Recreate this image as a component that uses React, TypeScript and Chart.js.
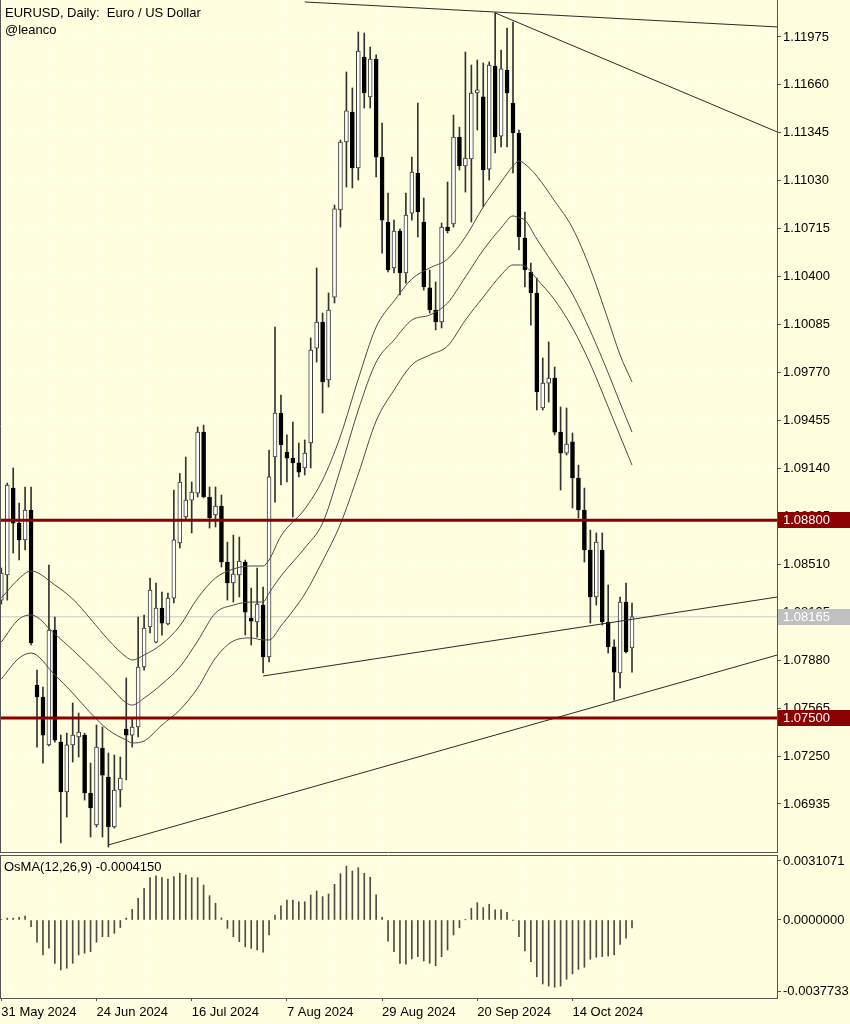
import React, { useEffect, useRef } from "react";
import { Chart, registerables } from "chart.js";

Chart.register(...registerables);

const FONT = '"Liberation Sans", Arial, Helvetica, sans-serif';
const BG = "#FFFFE0";
const GRID = "rgba(255,255,255,0.95)";
const AXIS = "#555555";

const TITLE = "EURUSD, Daily:  Euro / US Dollar";
const SUBTITLE = "@leanco";
const OSMA_TITLE = "OsMA(12,26,9) -0.0004150";

// Daily candles, 31 May 2024 .. 28 Oct 2024 (bar index 0..106)
const OPEN = [
  1.08275, 1.0844, 1.09011, 1.08781, 1.0867, 1.08867, 1.07717, 1.07638, 1.07323, 1.08078,
  1.07342, 1.07014, 1.07323, 1.07375, 1.07388, 1.07007, 1.06797, 1.07303, 1.07112, 1.06784,
  1.07027, 1.07428, 1.07388, 1.07441, 1.07835, 1.08098, 1.07999, 1.08223, 1.08118, 1.08288,
  1.0865, 1.08821, 1.08932, 1.08978, 1.09379, 1.08952, 1.08834, 1.08893, 1.08525, 1.08387,
  1.0844, 1.08525, 1.08157, 1.08131, 1.08242, 1.07901, 1.09215, 1.09504, 1.09248, 1.09208,
  1.09176, 1.09143, 1.09307, 1.09931, 1.10102, 1.09721, 1.10266, 1.10838, 1.11285, 1.11482,
  1.11114, 1.11843, 1.11581, 1.1183, 1.11186, 1.10759, 1.10457, 1.107, 1.10424, 1.10818,
  1.11081, 1.10759, 1.10326, 1.10181, 1.10102, 1.10726, 1.10746, 1.11318, 1.11127, 1.11173,
  1.11607, 1.11581, 1.11107, 1.11784, 1.11324, 1.11758, 1.11541, 1.11344, 1.10654, 1.10431,
  1.10293, 1.09537, 1.09701, 1.09734, 1.09379, 1.09241, 1.09314, 1.09077, 1.08867, 1.08604,
  1.08295, 1.08604, 1.08131, 1.07967, 1.07796, 1.08262, 1.0796,
];
const HIGH = [
  1.08486, 1.09044, 1.09143, 1.08913, 1.09018, 1.09018, 1.07815, 1.07704, 1.08505, 1.08164,
  1.07388, 1.07401, 1.07599, 1.07533, 1.07401, 1.07204, 1.07454, 1.07441, 1.0727, 1.07257,
  1.07244, 1.07763, 1.075, 1.08164, 1.08177, 1.0842, 1.08387, 1.08328, 1.08321, 1.08998,
  1.09107, 1.09215, 1.09051, 1.09412, 1.09425, 1.09018, 1.09018, 1.08965, 1.08656, 1.08702,
  1.08689, 1.08538, 1.08354, 1.08486, 1.08361, 1.09261, 1.10069, 1.09622, 1.0936, 1.09445,
  1.09307, 1.09327, 1.09997, 1.10457, 1.10161, 1.10293, 1.10871, 1.11298, 1.11745, 1.1164,
  1.12008, 1.12001, 1.11909, 1.11857, 1.1141, 1.1095, 1.10772, 1.10713, 1.1095, 1.11186,
  1.11541, 1.10917, 1.10444, 1.10365, 1.10753, 1.11022, 1.11462, 1.11383, 1.11876, 1.11791,
  1.11824, 1.11804, 1.11811, 1.12133, 1.11889, 1.12034, 1.12073, 1.11364, 1.10825, 1.1049,
  1.10391, 1.09866, 1.09971, 1.09806, 1.09544, 1.09537, 1.09373, 1.09162, 1.09011, 1.08735,
  1.08716, 1.08716, 1.08374, 1.08013, 1.08295, 1.08387, 1.08256,
];
const LOW = [
  1.08249, 1.08275, 1.08584, 1.08538, 1.08604, 1.0798, 1.07309, 1.07204, 1.07316, 1.07342,
  1.06679, 1.06849, 1.07211, 1.07244, 1.06961, 1.06718, 1.06784, 1.06718, 1.06652, 1.06777,
  1.06915, 1.07093, 1.07309, 1.07375, 1.07815, 1.08059, 1.07993, 1.08045, 1.08111, 1.08256,
  1.08617, 1.08801, 1.08716, 1.08952, 1.08946, 1.08748, 1.08755, 1.08492, 1.08275, 1.08262,
  1.08295, 1.08045, 1.0798, 1.08032, 1.07796, 1.07868, 1.08919, 1.09031, 1.09051, 1.08821,
  1.09084, 1.09097, 1.09143, 1.09839, 1.09504, 1.09675, 1.10227, 1.10726, 1.10989, 1.10983,
  1.11035, 1.11508, 1.11508, 1.11055, 1.10555, 1.10431, 1.10424, 1.1028, 1.10358, 1.10772,
  1.10661, 1.10312, 1.10161, 1.1005, 1.10063, 1.10687, 1.10726, 1.11101, 1.10956, 1.10759,
  1.11364, 1.10858, 1.11035, 1.11213, 1.11252, 1.11252, 1.11081, 1.10575, 1.10332, 1.10082,
  1.09524, 1.09524, 1.09576, 1.0936, 1.08998, 1.09228, 1.0888, 1.08814, 1.08525, 1.08124,
  1.08242, 1.08111, 1.07927, 1.07618, 1.07697, 1.07927, 1.07802,
];
const CLOSE = [
  1.08453, 1.09031, 1.08781, 1.0867, 1.08867, 1.07993, 1.07638, 1.07388, 1.08078, 1.07355,
  1.07014, 1.07323, 1.07388, 1.07408, 1.07007, 1.06909, 1.07309, 1.07125, 1.06784, 1.07027,
  1.07106, 1.07388, 1.07441, 1.07835, 1.08091, 1.08341, 1.08223, 1.08124, 1.08288, 1.0867,
  1.09051, 1.08932, 1.08985, 1.09379, 1.08952, 1.08814, 1.08893, 1.08525, 1.08387, 1.08446,
  1.08532, 1.08196, 1.08137, 1.08249, 1.07901, 1.09084, 1.09504, 1.09294, 1.09208, 1.09176,
  1.09116, 1.09241, 1.09918, 1.10102, 1.09708, 1.10181, 1.10845, 1.11285, 1.11489, 1.11114,
  1.11883, 1.11607, 1.1183, 1.11186, 1.10772, 1.10444, 1.107, 1.10424, 1.10805, 1.11088,
  1.10825, 1.10332, 1.10181, 1.10102, 1.10726, 1.107, 1.11318, 1.11127, 1.1118, 1.11607,
  1.11627, 1.11101, 1.11791, 1.11318, 1.11765, 1.11607, 1.11344, 1.10661, 1.10444, 1.10293,
  1.09642, 1.09701, 1.09734, 1.09379, 1.09241, 1.093, 1.09077, 1.08867, 1.08604, 1.08295,
  1.08656, 1.08131, 1.07967, 1.07802, 1.08262, 1.07934, 1.08165,
];

// OsMA(12,26,9) histogram, one value per bar
const OSMA = [
  0.00003, 0.0001, 0.0001, 0.00014, 0.0002, -0.00035, -0.00117, -0.00184, -0.00149, -0.00228,
  -0.00263, -0.00254, -0.00228, -0.00184, -0.00175, -0.00167, -0.00117, -0.00088, -0.00088, -0.0007,
  -0.0004, 0.0001, 0.00056, 0.00114, 0.00167, 0.00223, 0.00233, 0.00223, 0.00216, 0.00228,
  0.00246, 0.00237, 0.00223, 0.00223, 0.00184, 0.00128, 0.00088, 0.00011, -0.00044, -0.00088,
  -0.00114, -0.00141, -0.00149, -0.00158, -0.0017, -0.00079, 0.00026, 0.00075, 0.00105, 0.00105,
  0.00096, 0.00096, 0.00132, 0.00153, 0.00123, 0.00137, 0.00188, 0.00244, 0.00284, 0.00258,
  0.00275, 0.00246, 0.00225, 0.00132, 0.00014, -0.00111, -0.00167, -0.00228, -0.00233, -0.00205,
  -0.00193, -0.00216, -0.00228, -0.00241, -0.00193, -0.00158, -0.00079, -0.00041, 0.00001, 0.00062,
  0.00091, 0.00065, 0.00083, 0.00053, 0.00053, 0.00041, -0.00001, -0.00088, -0.00163, -0.0022,
  -0.00299, -0.00337, -0.00348, -0.00354, -0.00348, -0.00312, -0.00284, -0.0026, -0.00249, -0.00207,
  -0.00196, -0.00193, -0.0019, -0.00184, -0.00128, -0.00096, -0.000415,
];

// Three moving-average curves read at these bars
const MA_BARS = [
  0, 3, 5, 9, 12, 15, 18, 21, 22, 24, 27, 30, 33, 36, 39, 42, 44, 45, 47, 51, 54,
  57, 60, 63, 66, 69, 72, 75, 78, 81, 84, 86, 87, 88, 90, 93, 96, 99, 102, 104, 106,
];
const MA_UPPER = [
  1.08288, 1.08417, 1.08466, 1.08374, 1.08282, 1.08151, 1.08013, 1.07901, 1.07881, 1.07914, 1.07986,
  1.08105, 1.08288, 1.0842, 1.08479, 1.08499, 1.08499, 1.08538, 1.08696, 1.08873, 1.09064,
  1.09353, 1.09728, 1.10069, 1.1024, 1.10385, 1.10457, 1.10516, 1.10661, 1.10858, 1.11022,
  1.11127, 1.1116, 1.1114, 1.11061, 1.10897, 1.1072, 1.1045, 1.10115, 1.09885, 1.09708,
];
const MA_MIDDLE = [
  1.07999, 1.08151, 1.08177, 1.08052, 1.07947, 1.07835, 1.07717, 1.07599, 1.07585, 1.07631, 1.07723,
  1.07835, 1.08006, 1.0819, 1.08242, 1.08262, 1.08262, 1.08321, 1.08433, 1.08617, 1.08781,
  1.09136, 1.09524, 1.09839, 1.09984, 1.10115, 1.10148, 1.10227, 1.10398, 1.10575, 1.1072,
  1.10799, 1.10786, 1.10772, 1.10647, 1.1047, 1.10286, 1.10043, 1.09767, 1.0957, 1.09379,
];
const MA_LOWER = [
  1.07756, 1.07894, 1.07927, 1.07783, 1.07664, 1.07533, 1.07421, 1.07355, 1.07336, 1.07349, 1.07454,
  1.07553, 1.07697, 1.07894, 1.08006, 1.08026, 1.08013, 1.08013, 1.08105, 1.08315, 1.08532,
  1.08775, 1.09103, 1.09452, 1.09655, 1.0982, 1.09885, 1.09944, 1.10115, 1.10266, 1.10411,
  1.10477, 1.10477, 1.1047, 1.10385, 1.10247, 1.10063, 1.09826, 1.09544, 1.09353, 1.09162,
];

// Trend lines: anchor (bar, price) -> projected end (bar, price)
const TREND_FROM_BAR = [51, 83, 44, 18];
const TREND_FROM_PRICE = [1.12205, 1.12133, 1.07776, 1.06666];
const TREND_TO_BAR = [130.4, 130.4, 130.4, 130.4];
const TREND_TO_PRICE = [1.12041, 1.11351, 1.08295, 1.07914];

const LEVEL_RESISTANCE = 1.088;
const LEVEL_SUPPORT = 1.075;
const LAST_PRICE = 1.08165;

const PRICE_TICKS = [
  1.11975, 1.1166, 1.11345, 1.1103, 1.10715, 1.104, 1.10085, 1.0977, 1.09455,
  1.0914, 1.08825, 1.0851, 1.08195, 1.0788, 1.07565, 1.0725, 1.06935,
];
const OSMA_TICKS = [0.0031071, 0, -0.0037733];
const GRID_BARS = [0, 8, 16, 24, 32, 40, 48, 56, 64, 72, 80, 88, 96, 104];
const DATE_BARS = [0, 16, 32, 48, 64, 80, 96];
const DATE_LABELS = [
  "31 May 2024", "24 Jun 2024", "16 Jul 2024", "7 Aug 2024",
  "29 Aug 2024", "20 Sep 2024", "14 Oct 2024",
];

const X_MIN = -0.22;
const X_MAX = 130.37;
const PRICE_MIN = 1.06613;
const PRICE_MAX = 1.12218;
const OSMA_MIN = -0.0041075;
const OSMA_MAX = 0.0034229;

const BARS = OPEN.map((_, i) => i);

Chart.defaults.font.family = FONT;
Chart.defaults.font.size = 13;
Chart.defaults.color = "#000";

const lineDs = (data: { x: number; y: number }[], color: string, width: number, order: number, smooth = false) => ({
  type: "line" as const,
  data,
  borderColor: color,
  borderWidth: width,
  pointRadius: 0,
  fill: false,
  order,
  cubicInterpolationMode: smooth ? ("monotone" as const) : ("default" as const),
});

const priceOverlay = {
  id: "priceOverlay",
  afterDraw(chart: any) {
    const { ctx, chartArea, scales } = chart;
    const ys = scales.y;
    ctx.save();
    ctx.strokeStyle = AXIS;
    ctx.lineWidth = 1;
    ctx.beginPath();
    ctx.moveTo(0.5, 0);
    ctx.lineTo(0.5, chartArea.bottom);
    ctx.stroke();
    ctx.beginPath();
    ctx.moveTo(0, chartArea.bottom - 0.5);
    ctx.lineTo(chartArea.right, chartArea.bottom - 0.5);
    ctx.stroke();

    ctx.font = `13px ${FONT}`;
    ctx.textBaseline = "middle";
    const boxes: [number, string][] = [
      [LEVEL_RESISTANCE, "#8B0000"],
      [LAST_PRICE, "#C0C0C0"],
      [LEVEL_SUPPORT, "#8B0000"],
    ];
    for (const [v, bg] of boxes) {
      const py = Math.round(ys.getPixelForValue(v));
      ctx.fillStyle = bg;
      ctx.fillRect(chartArea.right + 1, py - 8, 72, 16);
      ctx.fillStyle = "#FFFFFF";
      ctx.fillText(v.toFixed(5), chartArea.right + 6, py + 0.5);
    }
    ctx.fillStyle = "#000";
    ctx.textBaseline = "alphabetic";
    ctx.fillText(TITLE, 5, 16.5);
    ctx.fillText(SUBTITLE, 5, 34);
    ctx.restore();
  },
};

const osmaOverlay = {
  id: "osmaOverlay",
  afterDraw(chart: any) {
    const { ctx, chartArea } = chart;
    ctx.save();
    ctx.strokeStyle = AXIS;
    ctx.lineWidth = 1;
    ctx.beginPath();
    ctx.moveTo(0.5, chartArea.top);
    ctx.lineTo(0.5, chartArea.bottom);
    ctx.stroke();
    ctx.beginPath();
    ctx.moveTo(0, chartArea.top + 0.5);
    ctx.lineTo(chartArea.right, chartArea.top + 0.5);
    ctx.stroke();
    ctx.font = `13px ${FONT}`;
    ctx.fillStyle = "#000";
    ctx.textBaseline = "alphabetic";
    ctx.fillText(OSMA_TITLE, 4, 18);
    ctx.restore();
  },
};

export default function App() {
  const priceRef = useRef<HTMLCanvasElement | null>(null);
  const osmaRef = useRef<HTMLCanvasElement | null>(null);

  useEffect(() => {
    if (!priceRef.current || !osmaRef.current) return;

    const trendSets = TREND_FROM_BAR.map((b, i) =>
      lineDs(
        [
          { x: b, y: TREND_FROM_PRICE[i] },
          { x: TREND_TO_BAR[i], y: TREND_TO_PRICE[i] },
        ],
        "#2a2a2a",
        1,
        1
      )
    );

    const priceChart = new Chart(priceRef.current, {
      type: "bar",
      data: {
        datasets: [
          lineDs([{ x: X_MIN, y: LEVEL_RESISTANCE }, { x: X_MAX, y: LEVEL_RESISTANCE }], "#8B0000", 3, 0),
          lineDs([{ x: X_MIN, y: LEVEL_SUPPORT }, { x: X_MAX, y: LEVEL_SUPPORT }], "#8B0000", 3, 0),
          ...trendSets,
          lineDs(MA_BARS.map((b, i) => ({ x: b, y: MA_UPPER[i] })), "#4a4a4a", 1, 2, true),
          lineDs(MA_BARS.map((b, i) => ({ x: b, y: MA_MIDDLE[i] })), "#4a4a4a", 1, 2, true),
          lineDs(MA_BARS.map((b, i) => ({ x: b, y: MA_LOWER[i] })), "#4a4a4a", 1, 2, true),
          {
            type: "bar" as const,
            data: BARS.map((i) => ({ x: i, y: [OPEN[i], CLOSE[i]] })),
            barThickness: 4,
            grouped: false,
            borderSkipped: false,
            borderWidth: 1,
            backgroundColor: BARS.map((i) => (CLOSE[i] >= OPEN[i] ? "#FFFFFF" : "#000000")),
            borderColor: BARS.map((i) => (CLOSE[i] >= OPEN[i] ? "#3a3a3a" : "#000000")),
            order: 3,
          },
          {
            type: "bar" as const,
            data: BARS.map((i) => ({ x: i, y: [LOW[i], HIGH[i]] })),
            barThickness: 1,
            grouped: false,
            borderWidth: 0,
            backgroundColor: "#333333",
            order: 4,
          },
          lineDs([{ x: X_MIN, y: LAST_PRICE }, { x: X_MAX, y: LAST_PRICE }], "#C8C8C8", 1, 5),
        ] as any,
      },
      options: {
        animation: false,
        responsive: false,
        devicePixelRatio: 1,
        layout: { padding: 0 },
        plugins: { legend: { display: false }, tooltip: { enabled: false } },
        scales: {
          x: {
            type: "linear",
            min: X_MIN,
            max: X_MAX,
            offset: false,
            afterBuildTicks: (s: any) => {
              s.ticks = GRID_BARS.map((v) => ({ value: v }));
            },
            ticks: { display: false },
            grid: { color: GRID, drawTicks: false, offset: false, lineWidth: 1 },
            border: { display: false, dash: [1, 2] },
            afterFit: (s: any) => {
              s.height = 0;
              s.paddingLeft = 0;
              s.paddingRight = 0;
            },
          },
          y: {
            type: "linear",
            position: "right",
            min: PRICE_MIN,
            max: PRICE_MAX,
            afterBuildTicks: (s: any) => {
              s.ticks = PRICE_TICKS.map((v) => ({ value: v }));
            },
            ticks: {
              autoSkip: false,
              padding: 2,
              color: "#000",
              font: { size: 13, family: FONT },
              callback: (v: any) => Number(v).toFixed(5),
            },
            grid: { color: GRID, tickColor: AXIS, tickLength: 4, drawTicks: true },
            border: { display: true, color: AXIS, width: 1, dash: [1, 2] },
            afterFit: (s: any) => {
              s.width = 73;
              s.paddingTop = 0;
              s.paddingBottom = 0;
            },
          },
        },
      } as any,
      plugins: [priceOverlay],
    });

    const osmaChart = new Chart(osmaRef.current, {
      type: "bar",
      data: {
        datasets: [
          {
            data: BARS.map((i) => ({ x: i, y: OSMA[i] })),
            barThickness: 1,
            grouped: false,
            borderWidth: 0,
            backgroundColor: "#4d4d45",
          },
        ] as any,
      },
      options: {
        animation: false,
        responsive: false,
        devicePixelRatio: 1,
        layout: { padding: { top: 2, left: 0, right: 0, bottom: 0 } },
        plugins: { legend: { display: false }, tooltip: { enabled: false } },
        scales: {
          x: {
            type: "linear",
            min: X_MIN,
            max: X_MAX,
            offset: false,
            afterBuildTicks: (s: any) => {
              s.ticks = GRID_BARS.map((v) => ({ value: v }));
            },
            ticks: {
              autoSkip: false,
              maxRotation: 0,
              minRotation: 0,
              align: "start",
              padding: 4,
              color: "#000",
              font: { size: 13, family: FONT },
              callback: (v: any) => {
                const j = DATE_BARS.indexOf(Number(v));
                return j >= 0 ? DATE_LABELS[j] : "";
              },
            },
            grid: {
              color: GRID,
              offset: false,
              tickLength: 3,
              tickColor: (c: any) => (c.tick && DATE_BARS.indexOf(c.tick.value) >= 0 ? AXIS : "rgba(0,0,0,0)"),
            },
            border: { display: true, color: AXIS, width: 1, dash: [1, 2] },
            afterFit: (s: any) => {
              s.height = 26;
              s.paddingLeft = 0;
              s.paddingRight = 0;
            },
          },
          y: {
            type: "linear",
            position: "right",
            min: OSMA_MIN,
            max: OSMA_MAX,
            afterBuildTicks: (s: any) => {
              s.ticks = OSMA_TICKS.map((v) => ({ value: v }));
            },
            ticks: {
              autoSkip: false,
              padding: 2,
              color: "#000",
              font: { size: 13, family: FONT },
              callback: (v: any) => Number(v).toFixed(7),
            },
            grid: { color: GRID, tickColor: AXIS, tickLength: 4 },
            border: { display: true, color: AXIS, width: 1, dash: [1, 2] },
            afterFit: (s: any) => {
              s.width = 73;
              s.paddingTop = 0;
              s.paddingBottom = 0;
            },
          },
        },
      } as any,
      plugins: [osmaOverlay],
    });

    return () => {
      priceChart.destroy();
      osmaChart.destroy();
    };
  }, []);

  return (
    <div
      style={{
        position: "absolute",
        left: 0,
        top: 0,
        width: 850,
        height: 1024,
        background: BG,
        overflow: "hidden",
      }}
    >
      <canvas ref={priceRef} width={850} height={853} style={{ display: "block" }} />
      <canvas ref={osmaRef} width={850} height={171} style={{ display: "block" }} />
    </div>
  );
}
